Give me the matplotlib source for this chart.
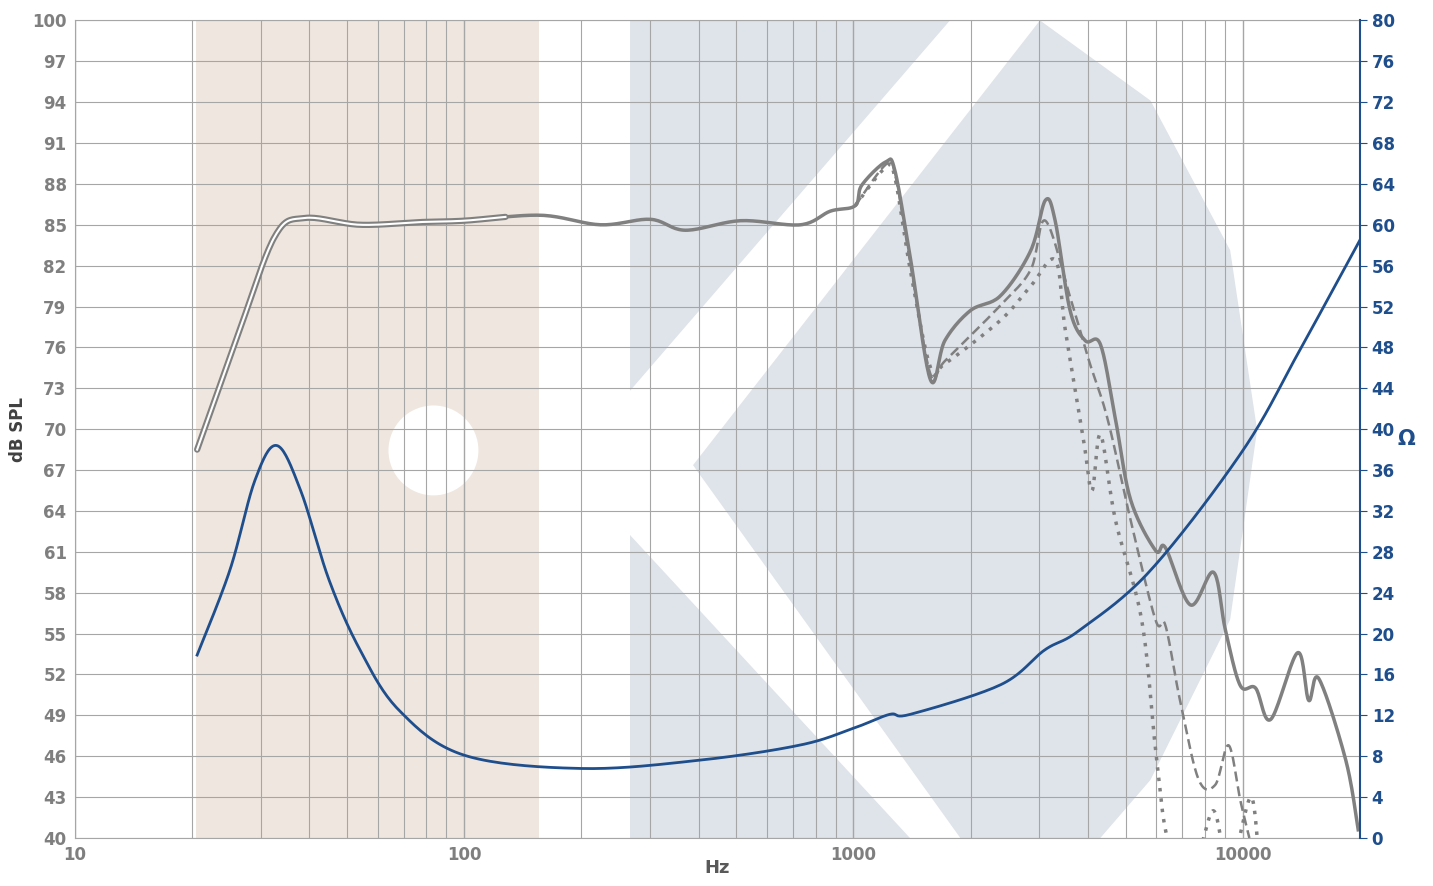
import numpy as np
import matplotlib.pyplot as plt
from matplotlib.patches import Rectangle, Polygon, Ellipse

spl_f = [20.6,26.5,32.7,39,54,77,100,157,224,301,370,513,731,872,1010,1050,1208,1277,1403,1578,1717,1996,2388,2853,3112,3297,3602,3939,4312,4712,5154,5970,6330,7340,8412,9020,9850,10790,11800,13840,14770,15680,18400,19800]
spl_db = [68.5,77.3,84.2,85.5,85.0,85.2,85.3,85.7,85.0,85.4,84.6,85.3,85.0,86.0,86.4,87.9,89.6,89.0,82.4,73.6,76.5,78.7,79.8,83.1,86.8,85.3,78.7,76.5,76.2,70.7,64.8,61.1,61.3,57.1,59.5,55.3,51.2,51.0,48.7,53.6,50.1,51.7,45.7,40.6]

dash_f = [1010,1208,1277,1403,1578,1717,2388,2853,3112,3602,4030,4500,5154,5970,6330,6900,7700,8500,9200,9850,10400]
dash_db = [86.4,89.4,88.8,82.0,74.0,75.0,79.1,81.7,85.3,79.7,75.0,70.7,63.3,56.0,55.6,50.1,44.3,43.9,46.8,42.8,40.0]

dot_f = [1010,1208,1277,1403,1578,1717,2388,2853,3300,3500,3900,4100,4312,4712,5500,5970,6330,6800,7600,8400,9000,9500,10500,11000]
dot_db = [86.4,89.2,88.5,81.5,74.5,74.8,78.0,80.5,82.4,77.3,69.2,65.5,69.6,63.3,56.0,46.5,40.6,38.5,38.5,42.0,38.5,38.5,43.0,38.5]

imp_f = [20.6,25,29,33,38,45,54,68,100,200,400,731,1010,1240,1400,2390,3100,3800,5800,10000,14000,20000]
imp_ohm = [17.9,26.2,35.0,38.4,34.0,25.2,18.4,12.5,8.1,6.8,7.6,9.1,10.8,12.1,12.1,15.0,18.4,20.3,26.2,37.9,47.7,58.5]

left_ticks = list(range(40, 101, 3))
right_ticks = list(range(0, 81, 4))

def smooth(xf, yv):
    lx = np.log10(xf)
    pts = np.column_stack([lx, yv])
    out = []
    P = np.vstack([pts[0], pts, pts[-1]])
    for i in range(1, len(P) - 2):
        p0, p1, p2, p3 = P[i-1], P[i], P[i+1], P[i+2]
        for s in np.linspace(0, 1, 20, endpoint=False):
            s2, s3 = s*s, s*s*s
            out.append(0.5*((2*p1) + (-p0+p2)*s + (2*p0-5*p1+4*p2-p3)*s2 + (-p0+3*p1-3*p2+p3)*s3))
    out.append(P[-2])
    out = np.array(out)
    return 10**out[:, 0], out[:, 1]

fig = plt.figure(figsize=(14.33, 8.86), dpi=100)
ax = fig.add_axes([0.0523, 0.0542, 0.8967, 0.9228])
ax.set_xscale('log')
ax.set_xlim(10, 20000)
ax.set_ylim(40, 100)

# watermark shapes
wm = '#dfe4ea'
ax.add_patch(Rectangle((0.094, 0), 0.267, 1, transform=ax.transAxes, color='#efe6df', zorder=0, lw=0))
ax.add_patch(Ellipse((0.279, 0.474), 0.07, 0.11, transform=ax.transAxes, color='white', zorder=0, lw=0))
ax.add_patch(Polygon([(0.432, 1), (0.681, 1), (0.432, 0.547)], transform=ax.transAxes, color=wm, zorder=0, lw=0))
ax.add_patch(Polygon([(0.751, 1.0), (0.837, 0.902), (0.899, 0.719), (0.920, 0.499), (0.899, 0.267), (0.837, 0.071), (0.798, 0), (0.689, 0), (0.481, 0.456)], transform=ax.transAxes, color=wm, zorder=0, lw=0))
ax.add_patch(Polygon([(0.432, 0.37), (0.432, 0), (0.65, 0)], transform=ax.transAxes, color=wm, zorder=0, lw=0))

gc = '#a6a6a6'
for d in [10, 100, 1000, 10000]:
    for m in range(1, 10):
        v = d*m
        if v <= 20000:
            ax.axvline(v, color=gc, lw=1.0 if m == 1 else 0.8, zorder=1)
for t in left_ticks:
    ax.axhline(t, color=gc, lw=0.8, zorder=1)

grey = '#808080'
x, y = smooth(spl_f, spl_db)
ax.plot(x, y, color=grey, lw=2.5, zorder=4)
m = x < 130
ax.plot(x[m], y[m], color=grey, lw=4.5, zorder=4, solid_capstyle='round')
ax.plot(x[m], y[m], color='white', lw=1.5, zorder=5)
x, y = smooth(dash_f, dash_db)
ax.plot(x, y, color=grey, lw=1.8, ls=(0, (4, 2)), zorder=3)
x, y = smooth(dot_f, dot_db)
ax.plot(x, y, color=grey, lw=2.5, ls=(0, (1, 2)), zorder=3)

ax2 = ax.twinx()
ax2.set_ylim(0, 80)
x, y = smooth(imp_f, imp_ohm)
blue = '#1f4e8c'
ax2.plot(x, y, color=blue, lw=2, zorder=6)

ax.set_xticks([10, 100, 1000, 10000])
ax.set_xticklabels(['10', '100', '1000', '10000'])
ax.xaxis.set_minor_locator(plt.NullLocator())
ax.set_yticks(left_ticks)
ax2.set_yticks(right_ticks)
for lab in ax.get_xticklabels() + ax.get_yticklabels():
    lab.set_fontweight('bold'); lab.set_color('#7f7f7f'); lab.set_fontsize(12)
for lab in ax2.get_yticklabels():
    lab.set_fontweight('bold'); lab.set_color(blue); lab.set_fontsize(12)
ax.tick_params(axis='both', length=0, pad=6)
ax2.tick_params(axis='y', length=5, color=blue, direction='out')
for s in ['top', 'left', 'bottom']:
    ax2.spines[s].set_visible(False)
    ax.spines[s].set_color(gc)
ax.spines['right'].set_visible(False)
ax2.spines['right'].set_color(blue); ax2.spines['right'].set_linewidth(1.5)
ax.set_xlabel('Hz', fontsize=13, fontweight='bold', color='#595959', labelpad=-4)
ax.set_ylabel('dB SPL', fontsize=12, fontweight='bold', color='#404040', labelpad=4)
ax2.set_ylabel('Ω', fontsize=15, fontweight='bold', color=blue, rotation=0, labelpad=8)
fig.savefig('out.png', dpi=100)
